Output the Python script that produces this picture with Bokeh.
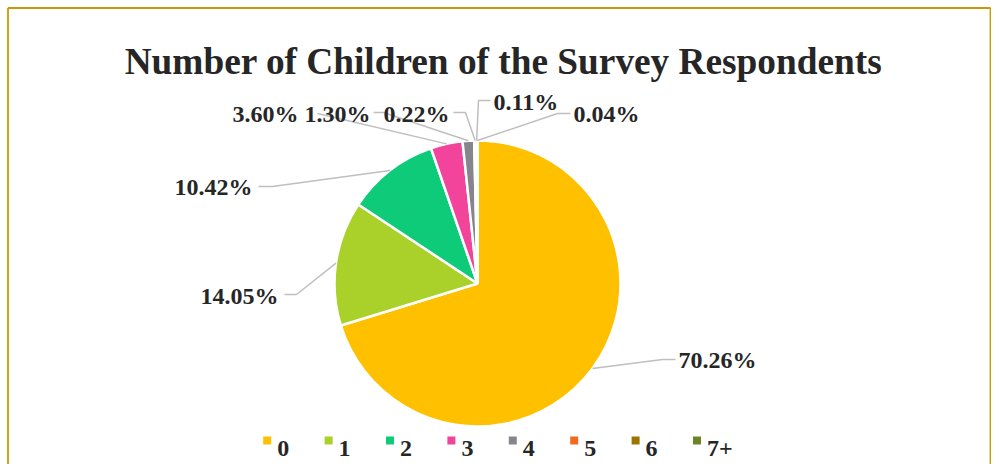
import numpy as np
from bokeh.plotting import figure
from bokeh.models import Range1d, ColumnDataSource
from bokeh.embed import file_html
from bokeh.resources import INLINE
from bokeh.core.properties import value

# ---------------- data ----------------
categories = ["0", "1", "2", "3", "4", "5", "6", "7+"]
percentages = [70.26, 14.05, 10.42, 3.60, 1.30, 0.22, 0.11, 0.04]
colors = ["#FFC000", "#A9D12A", "#0DCB78", "#F2449B", "#86858B", "#F26A1F", "#9C7400", "#6C8424"]
labels = [f"{v:.2f}%" for v in percentages]
title_text = "Number of Children of the Survey Respondents"

# ---------------- layout ----------------
W, H = 991, 464
FONT = value("Liberation Serif")
TXT = "#262626"


def fx(px):
    return px


def fy(py):
    return H - py


CX, CY, R = fx(477), fy(283), 143

# label placements (px): text anchor, alignment, leader elbow points
label_layout = [
    (678, 359, "left", [(675, 359), (662, 359)]),
    (278, 295, "right", [(284, 294), (296, 294)]),
    (252, 186, "right", [(258, 186), (272, 186)]),
    (298, 113, "right", [(317, 113)]),
    (304, 113, "left", [(373, 112), (383, 112)]),
    (383, 113, "left", [(453, 112), (465, 112)]),
    (493, 101, "left", [(490, 100), (478, 100)]),
    (573, 113, "left", [(570, 113), (557, 113)]),
]

p = figure(width=W, height=H, output_backend="svg", toolbar_location=None,
           x_range=Range1d(0, W), y_range=Range1d(0, H),
           x_axis_location=None, y_axis_location=None, min_border=0)
p.grid.visible = False
p.outline_line_color = None
p.background_fill_color = "white"
p.border_fill_color = "white"

# pie
total = sum(percentages)
frac = np.array(percentages) / total
cum = np.concatenate([[0], np.cumsum(frac)])
start = np.pi / 2 - cum[:-1] * 2 * np.pi
end = np.pi / 2 - cum[1:] * 2 * np.pi
mid = (start + end) / 2
src = ColumnDataSource(dict(start=start, end=end, color=colors))
p.wedge(x=CX, y=CY, radius=R, start_angle="start", end_angle="end",
        direction="clock", fill_color="color", line_color="white",
        line_width=2.5, source=src)

# leader lines and labels
xs, ys = [], []
tx, ty, ta = [], [], []
for i, (lx, ly, al, path) in enumerate(label_layout):
    ax = CX + R * np.cos(mid[i])
    ay = CY + R * np.sin(mid[i])
    xs.append([fx(a) for a, b in path] + [ax])
    ys.append([fy(b) for a, b in path] + [ay])
    tx.append(fx(lx))
    ty.append(fy(ly))
    ta.append(al)
p.multi_line(xs=xs, ys=ys, line_color="#BFBFBF", line_width=1.5)
p.text(x=tx, y=ty, text=labels, text_align=ta, text_baseline="alphabetic",
       text_font=FONT, text_font_style="bold", text_font_size="24px",
       text_color=TXT)

# title
p.text(x=[fx(503)], y=[fy(61)], text=[title_text], text_align="center",
       text_baseline="alphabetic", text_font=FONT, text_font_style="bold",
       text_font_size="37.3px", text_color=TXT)

# legend
lx0, lstep, lyc, lbase = 266.7, 61.4, 440, 448
mx = [fx(lx0 + i * lstep) for i in range(len(categories))]
p.scatter(x=mx, y=[fy(lyc)] * len(mx), marker="square", size=8,
          fill_color=colors, line_color=None)
p.text(x=[m + 10 for m in mx], y=[fy(lbase)] * len(mx), text=categories,
       text_align="left", text_baseline="alphabetic", text_font=FONT,
       text_font_style="bold", text_font_size="24px", text_color=TXT)

# chart border (left, top, right)
bc = "#C99A06"
bl, bt, br = fx(7.5), fy(7.5), W - 1
p.multi_line(xs=[[bl, bl], [bl, br], [br, br]],
             ys=[[0, bt], [bt, bt], [bt, 0]],
             line_color=bc, line_width=1.8)

open("out.html", "w").write(file_html(p, INLINE))
